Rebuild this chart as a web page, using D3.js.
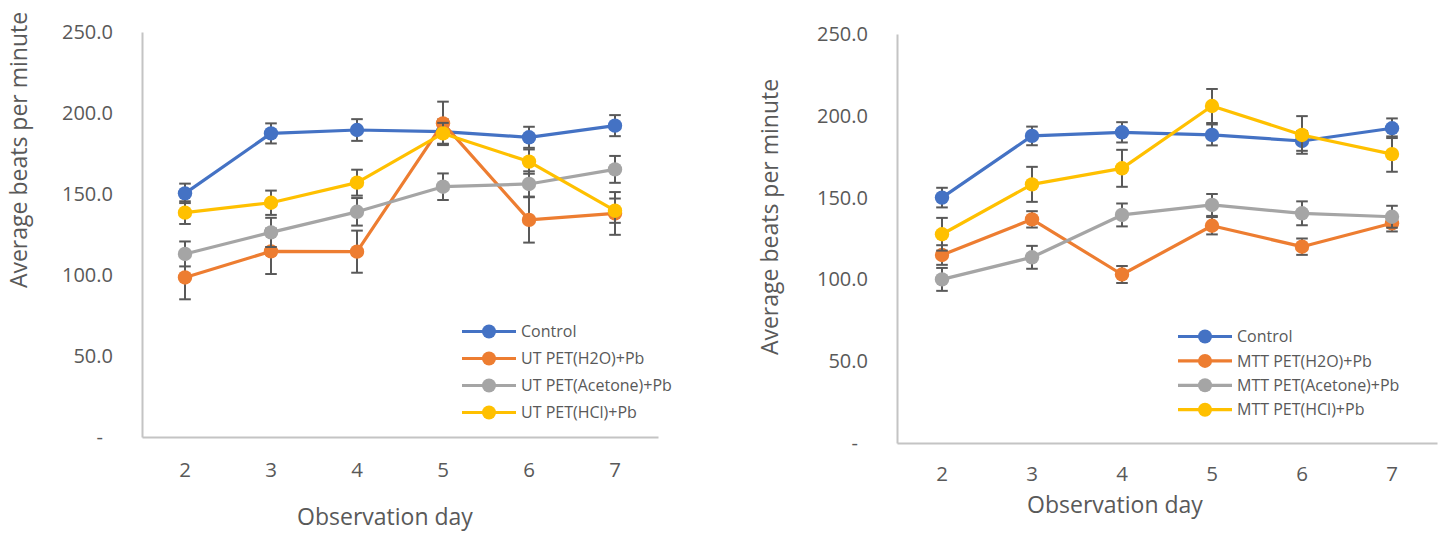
<!DOCTYPE html>
<html>
<head>
<meta charset="utf-8">
<script src="https://cdn.jsdelivr.net/npm/d3@7"></script>
<style>
  html, body { margin: 0; padding: 0; background: #ffffff; }
  svg { display: block; font-family: "Open Sans", "Noto Sans", sans-serif; }
</style>
</head>
<body>
<svg id="chart" width="1443" height="533"></svg>
<script>
// Shared categories and axis ticks
const days = ["2", "3", "4", "5", "6", "7"];
const yTickValues = [0, 50, 100, 150, 200, 250];
const seriesColors = ["#4472C4", "#ED7D31", "#A5A5A5", "#FFC000"];

// UT panel: mean heart rate and error per observation day
const utNames = ["Control", "UT PET(H2O)+Pb", "UT PET(Acetone)+Pb", "UT PET(HCl)+Pb"];
const utControl     = [150.4, 187.4, 189.5, 188.5, 185.0, 192.2];
const utControlErr  = [6.0, 6.2, 6.7, 7.5, 6.5, 6.5];
const utH2O         = [98.5, 114.6, 114.4, 193.6, 134.0, 138.0];
const utH2OErr      = [13.5, 14.0, 13.0, 13.4, 14.0, 13.2];
const utAcetone     = [113.0, 126.3, 139.0, 154.5, 156.2, 165.2];
const utAcetoneErr  = [7.7, 9.0, 8.5, 8.2, 7.8, 8.3];
const utHCl         = [138.5, 144.6, 157.0, 187.4, 170.0, 139.7];
const utHClErr      = [7.0, 7.5, 8.0, 6.5, 7.5, 7.5];

// MTT panel: mean heart rate and error per observation day
const mttNames = ["Control", "MTT PET(H2O)+Pb", "MTT PET(Acetone)+Pb", "MTT PET(HCl)+Pb"];
const mttControl    = [150.0, 187.7, 189.9, 188.3, 184.6, 192.4];
const mttControlErr = [6.0, 5.7, 6.2, 6.4, 6.0, 6.0];
const mttH2O        = [114.9, 136.7, 103.0, 132.8, 120.0, 134.3];
const mttH2OErr     = [6.0, 5.0, 5.2, 5.3, 5.0, 5.0];
const mttAcetone    = [100.0, 113.5, 139.4, 145.5, 140.4, 138.3];
const mttAcetoneErr = [7.0, 7.0, 7.0, 6.7, 7.3, 6.7];
const mttHCl        = [127.6, 158.1, 167.9, 206.0, 188.3, 176.6];
const mttHClErr     = [10.0, 10.7, 11.3, 10.4, 11.5, 10.8];

const xTitle = "Observation day";
const yTitle = "Average beats per minute";

const panels = [
  {
    names: utNames,
    values: [utControl, utH2O, utAcetone, utHCl],
    errors: [utControlErr, utH2OErr, utAcetoneErr, utHClErr],
    layout: { x0: 142, x1: 658, yTop: 32, yBottom: 437, tickPad: 25,
              yTitleX: 27, yTitleY: 150, xTitleX: 385, xTitleY: 525,
              legendX: 462, legendY: 331.5, legendStep: 27 }
  },
  {
    names: mttNames,
    values: [mttControl, mttH2O, mttAcetone, mttHCl],
    errors: [mttControlErr, mttH2OErr, mttAcetoneErr, mttHClErr],
    layout: { x0: 897, x1: 1437, yTop: 34, yBottom: 443, tickPad: 23,
              yTitleX: 778, yTitleY: 217, xTitleX: 1115, xTitleY: 513,
              legendX: 1178, legendY: 336.5, legendStep: 24.4 }
  }
];

const svg = d3.select("#chart");
const fontFamily = "'Open Sans', 'Noto Sans', sans-serif";
const textColor = "#595959";
const axisColor = "#C4C4C4";
const errColor = "#595959";
const markerR = 7.2;
const capHalf = 5.8;

panels.forEach(panel => {
  const L = panel.layout;
  const g = svg.append("g");

  const x = d3.scaleBand().domain(days).range([L.x0, L.x1]);
  const y = d3.scaleLinear().domain([0, 250]).range([L.yBottom, L.yTop]);

  // Value axis
  const yAxis = g.append("g")
    .attr("transform", `translate(${L.x0},0)`)
    .call(d3.axisLeft(y).tickValues(yTickValues).tickSize(0).tickPadding(29)
      .tickFormat(d => d === 0 ? "-" : d3.format(".1f")(d)))
    .attr("font-family", fontFamily);
  yAxis.select(".domain").attr("stroke", axisColor).attr("stroke-width", 2);
  yAxis.selectAll("text")
    .attr("fill", textColor).style("font-size", "20px")
    .attr("dx", d => d === 0 ? -10 : 0);

  // Category axis
  const xAxis = g.append("g")
    .attr("transform", `translate(0,${L.yBottom})`)
    .call(d3.axisBottom(x).tickSize(0).tickPadding(L.tickPad))
    .attr("font-family", fontFamily);
  xAxis.select(".domain").attr("stroke", axisColor).attr("stroke-width", 2);
  xAxis.selectAll("text").attr("fill", textColor).style("font-size", "20.5px");

  // Axis titles
  g.append("text")
    .attr("transform", `translate(${L.yTitleX},${L.yTitleY}) rotate(-90)`)
    .attr("text-anchor", "middle")
    .attr("fill", textColor).style("font-size", "23px")
    .text(yTitle);
  g.append("text")
    .attr("x", L.xTitleX).attr("y", L.xTitleY)
    .attr("text-anchor", "middle")
    .attr("fill", textColor).style("font-size", "23px")
    .text(xTitle);

  const cx = d => x(d) + x.bandwidth() / 2;
  const line = d3.line().x(d => cx(d.day)).y(d => y(d.v));

  // Series: error bars, connecting line, markers
  panel.values.forEach((vals, si) => {
    const pts = days.map((day, i) => ({ day, v: vals[i], e: panel.errors[si][i] }));
    const sg = g.append("g");
    const color = seriesColors[si];

    const eb = sg.append("g").attr("stroke", errColor).attr("stroke-width", 2);
    pts.forEach(p => {
      const xc = cx(p.day);
      eb.append("line").attr("x1", xc).attr("x2", xc)
        .attr("y1", y(p.v + p.e)).attr("y2", y(p.v - p.e));
      eb.append("line").attr("x1", xc - capHalf).attr("x2", xc + capHalf)
        .attr("y1", y(p.v + p.e)).attr("y2", y(p.v + p.e));
      eb.append("line").attr("x1", xc - capHalf).attr("x2", xc + capHalf)
        .attr("y1", y(p.v - p.e)).attr("y2", y(p.v - p.e));
    });

    sg.append("path").datum(pts)
      .attr("d", line)
      .attr("fill", "none")
      .attr("stroke", color)
      .attr("stroke-width", 3.2)
      .attr("stroke-linejoin", "round");

    sg.selectAll("circle").data(pts).join("circle")
      .attr("cx", d => cx(d.day)).attr("cy", d => y(d.v))
      .attr("r", markerR).attr("fill", color);
  });

  // Legend
  const lg = g.append("g");
  panel.names.forEach((name, i) => {
    const ly = L.legendY + i * L.legendStep;
    lg.append("line")
      .attr("x1", L.legendX).attr("x2", L.legendX + 54)
      .attr("y1", ly).attr("y2", ly)
      .attr("stroke", seriesColors[i]).attr("stroke-width", 3.2);
    lg.append("circle")
      .attr("cx", L.legendX + 27).attr("cy", ly).attr("r", 7)
      .attr("fill", seriesColors[i]);
    lg.append("text")
      .attr("x", L.legendX + 59).attr("y", ly).attr("dy", "0.35em")
      .attr("fill", textColor).style("font-size", "16px")
      .text(name);
  });
});
</script>
</body>
</html>
